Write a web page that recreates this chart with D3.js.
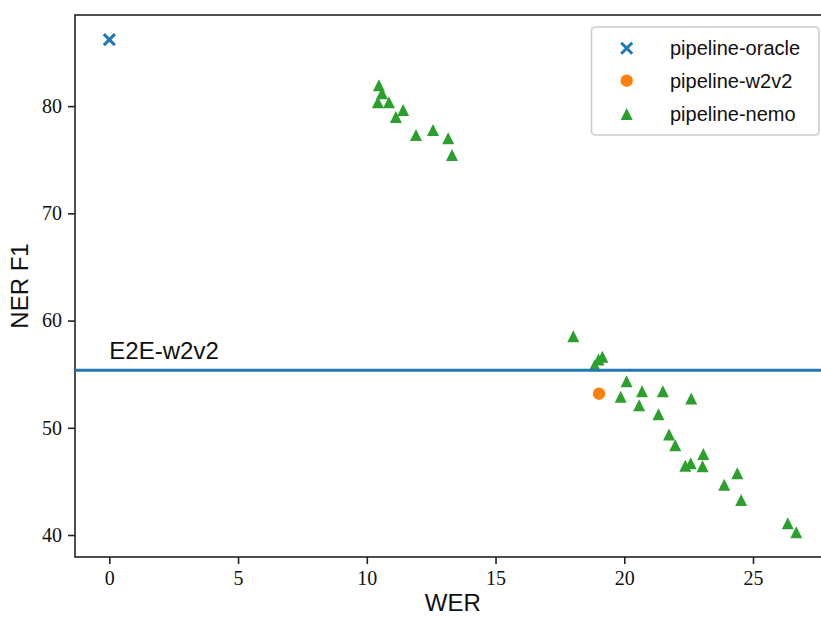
<!DOCTYPE html>
<html><head><meta charset="utf-8">
<script src="https://cdn.jsdelivr.net/npm/d3@7"></script>
<style>body{margin:0;background:#fff;} svg{display:block;}</style>
</head><body>
<svg id="c" width="821" height="617"></svg>
<script>
const oracleWER = [0];
const oracleF1 = [86.2];
const w2v2WER = [19.02];
const w2v2F1 = [53.18];
const nemoWER = [10.47,10.59,10.43,10.86,11.13,11.41,11.91,12.57,13.16,13.31,18.02,18.85,19.0,19.15,20.09,19.86,20.69,20.58,21.5,22.6,21.33,21.74,21.98,22.37,22.58,23.07,23.04,24.39,23.88,24.54,26.35,26.68];
const nemoF1 = [81.95,81.2,80.37,80.37,78.98,79.63,77.3,77.77,77.0,75.44,58.54,55.84,56.37,56.62,54.35,52.9,53.42,52.1,53.42,52.74,51.26,49.37,48.37,46.45,46.7,47.56,46.42,45.77,44.68,43.26,41.09,40.25];
const e2eF1 = 55.37;
const e2eLabel = "E2E-w2v2";
const xTicks = [0,5,10,15,20,25];
const yTicks = [40,50,60,70,80];
const seriesNames = ["pipeline-oracle","pipeline-w2v2","pipeline-nemo"];
const colors = ["#1f77b4","#ff7f0e","#2ca02c"];

const svg = d3.select("#c");
const L=75, R=830.6, T=15, B=557;
const x = d3.scaleLinear().domain([-1.334,28.014]).range([L,R]);
const y = d3.scaleLinear().domain([37.95,88.50]).range([B,T]);
const serif = "'Liberation Serif','DejaVu Serif',serif";
const sans = "'Liberation Sans','DejaVu Sans',sans-serif";

// axes
const xAxis = d3.axisBottom(x).tickValues(xTicks).tickSize(7).tickPadding(6).tickFormat(d3.format("d"));
const yAxis = d3.axisLeft(y).tickValues(yTicks).tickSize(7).tickPadding(6).tickFormat(d3.format("d"));
const gx = svg.append("g").attr("transform",`translate(0,${B})`).call(xAxis);
const gy = svg.append("g").attr("transform",`translate(${L},0)`).call(yAxis);
[gx,gy].forEach(g=>{
  g.select(".domain").remove();
  g.selectAll(".tick line").attr("stroke","#222").attr("stroke-width",1.6);
  g.selectAll(".tick text").attr("font-family",serif).attr("font-size",20).attr("fill","#111");
});
gx.selectAll(".tick text").attr("dy","0.75em");

// spines
svg.append("rect").attr("x",L).attr("y",T).attr("width",R-L).attr("height",B-T)
  .attr("fill","none").attr("stroke","#222").attr("stroke-width",1.6);

// points
const oracle = oracleWER.map((d,i)=>[d,oracleF1[i]]);
const w2v2 = w2v2WER.map((d,i)=>[d,w2v2F1[i]]);
const nemo = nemoWER.map((d,i)=>[d,nemoF1[i]]);
const xPath = h=>`M${-h},${-h}L${h},${h}M${-h},${h}L${h},${-h}`;
const triPath = h=>`M0,${-h}L${-h},${h}L${h},${h}Z`;

svg.append("g").selectAll("path").data(oracle).join("path")
  .attr("transform",d=>`translate(${x(d[0])},${y(d[1])})`)
  .attr("d",xPath(5.5)).attr("stroke",colors[0]).attr("stroke-width",3).attr("fill","none");
svg.append("g").selectAll("circle").data(w2v2).join("circle")
  .attr("cx",d=>x(d[0])).attr("cy",d=>y(d[1])).attr("r",6.2).attr("fill",colors[1]);
svg.append("g").selectAll("path").data(nemo).join("path")
  .attr("transform",d=>`translate(${x(d[0])},${y(d[1])})`)
  .attr("d",triPath(6)).attr("fill",colors[2]);

// hline
svg.append("line").attr("x1",L).attr("x2",R).attr("y1",y(e2eF1)).attr("y2",y(e2eF1))
  .attr("stroke",colors[0]).attr("stroke-width",3);
svg.append("text").attr("x",x(0)).attr("y",y(e2eF1)-11).text(e2eLabel)
  .attr("font-family",sans).attr("font-size",24).attr("fill","#111");

// axis labels
svg.append("text").attr("x",(L+R)/2).attr("y",611).attr("text-anchor","middle")
  .text("WER").attr("font-family",sans).attr("font-size",24).attr("fill","#111");
svg.append("text").attr("transform",`translate(28,${(T+B)/2}) rotate(-90)`).attr("text-anchor","middle")
  .text("NER F1").attr("font-family",sans).attr("font-size",24).attr("fill","#111");

// legend
const lg = svg.append("g");
lg.append("rect").attr("x",591.5).attr("y",27).attr("width",227.5).attr("height",108).attr("rx",4)
  .attr("fill","#fff").attr("fill-opacity",0.8).attr("stroke","#ccc").attr("stroke-width",1.6);
const rowsY=[48.3,80.7,114];
seriesNames.forEach((name,i)=>{
  const cy=rowsY[i], cx=626.7;
  if(i===0) lg.append("path").attr("transform",`translate(${cx},${cy})`).attr("d",xPath(5.5)).attr("stroke",colors[0]).attr("stroke-width",3).attr("fill","none");
  else if(i===1) lg.append("circle").attr("cx",cx).attr("cy",cy).attr("r",6.2).attr("fill",colors[1]);
  else lg.append("path").attr("transform",`translate(${cx},${cy})`).attr("d",triPath(6)).attr("fill",colors[2]);
  lg.append("text").attr("x",670).attr("y",cy+7).text(name).attr("font-family",sans).attr("font-size",20).attr("fill","#111");
});
</script>
</body></html>
